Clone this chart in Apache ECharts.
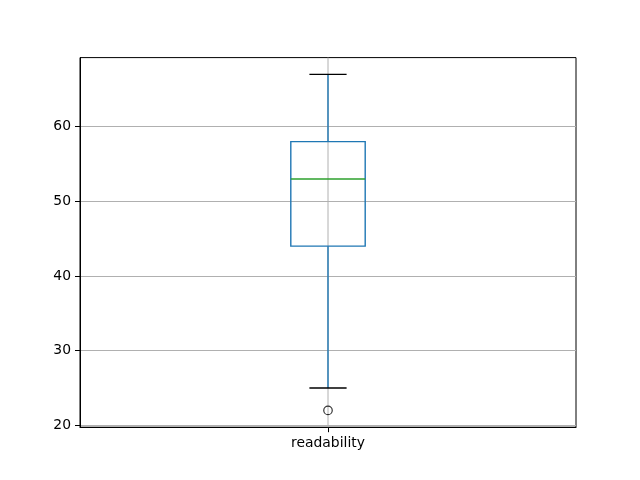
<!DOCTYPE html>
<html>
<head>
<meta charset="utf-8">
<script src="https://cdn.jsdelivr.net/npm/echarts@6/dist/echarts.min.js"></script>
<style>html,body{margin:0;padding:0;background:#fff}#c{width:640px;height:480px}</style>
</head>
<body>
<div id="c"></div>
<script>
var categories = ['readability'];
// [lowerWhisker, Q1, median, Q3, upperWhisker]
var boxValues = [[25, 44, 53, 58, 67]];
var outliers = [[0, 22]];
var yTicks = [20, 30, 40, 50, 60];

var chart = echarts.init(document.getElementById('c'), null, {renderer: 'canvas'});
var font = 'DejaVu Sans';

var boxData = boxValues.map(function (v, i) { return [i].concat(v); });

chart.setOption({
  animation: false,
  backgroundColor: '#ffffff',
  grid: {left: 80, right: 64, top: 57.6, bottom: 52.8, show: true, borderColor: '#000', borderWidth: 1, backgroundColor: 'transparent'},
  xAxis: {
    type: 'category',
    data: categories,
    boundaryGap: true,
    axisLine: {show: true, lineStyle: {color: '#000', width: 1}},
    axisTick: {show: true, alignWithLabel: true, length: 5, lineStyle: {color: '#000'}},
    axisLabel: {color: '#000', fontFamily: font, fontSize: 13.9, margin: 9},
    splitLine: {show: false}
  },
  yAxis: {
    type: 'value',
    min: 19.75,
    max: 69.25,
    axisLine: {show: true, lineStyle: {color: '#000', width: 1}},
    axisTick: {show: true, length: 5, lineStyle: {color: '#000'}, customValues: yTicks},
    axisLabel: {color: '#000', fontFamily: font, fontSize: 13.9, margin: 9, customValues: yTicks},
    splitLine: {show: true, lineStyle: {color: '#b0b0b0', width: 1}, customValues: yTicks}
  },
  series: [
    {
      type: 'custom',
      data: boxData,
      z: 2,
      renderItem: function (params, api) {
        var cs = params.coordSys;
        var cat = api.value(0);
        var band = api.size([1, 0])[0];
        var cx = api.coord([cat, 0])[0];
        var yLow = api.coord([cat, api.value(1)])[1];
        var yQ1 = api.coord([cat, api.value(2)])[1];
        var yMed = api.coord([cat, api.value(3)])[1];
        var yQ3 = api.coord([cat, api.value(4)])[1];
        var yHigh = api.coord([cat, api.value(5)])[1];
        var bw = band * 0.15;
        var cw = bw / 2;
        var blue = '#1f77b4';
        return {
          type: 'group',
          children: [
            {type: 'line', shape: {x1: cx, y1: cs.y, x2: cx, y2: cs.y + cs.height}, style: {stroke: '#b0b0b0', lineWidth: 1}},
            {type: 'rect', shape: {x: cx - bw / 2, y: yQ3, width: bw, height: yQ1 - yQ3}, style: {fill: null, stroke: blue, lineWidth: 1.4}},
            {type: 'line', shape: {x1: cx, y1: yQ3, x2: cx, y2: yHigh}, style: {stroke: blue, lineWidth: 1.4}},
            {type: 'line', shape: {x1: cx, y1: yQ1, x2: cx, y2: yLow}, style: {stroke: blue, lineWidth: 1.4}},
            {type: 'line', shape: {x1: cx - cw / 2, y1: yHigh, x2: cx + cw / 2, y2: yHigh}, style: {stroke: '#000', lineWidth: 1.4}},
            {type: 'line', shape: {x1: cx - cw / 2, y1: yLow, x2: cx + cw / 2, y2: yLow}, style: {stroke: '#000', lineWidth: 1.4}},
            {type: 'line', shape: {x1: cx - bw / 2, y1: yMed, x2: cx + bw / 2, y2: yMed}, style: {stroke: '#2ca02c', lineWidth: 1.4}}
          ]
        };
      }
    },
    {
      type: 'scatter',
      data: outliers,
      z: 3,
      symbol: 'circle',
      symbolSize: 8.5,
      itemStyle: {color: 'transparent', borderColor: '#000', borderWidth: 1.2}
    }
  ]
});
</script>
</body>
</html>
